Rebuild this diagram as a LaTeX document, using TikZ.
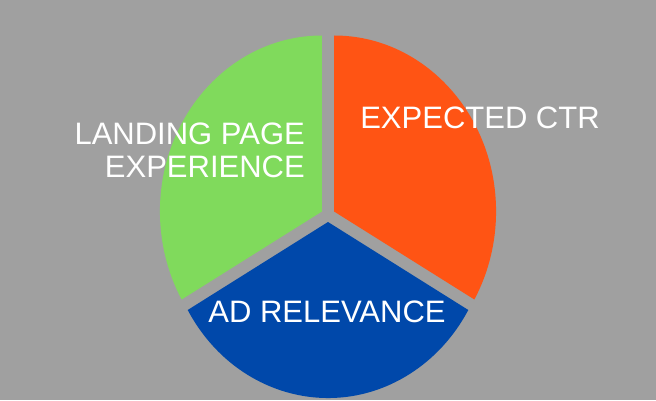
\documentclass[tikz,border=0pt]{standalone}
\usepackage{fontspec}
\setmainfont{Liberation Sans}
\usetikzlibrary{calc}
\definecolor{bg}{HTML}{A0A0A0}
\definecolor{pgreen}{HTML}{80DA5C}
\definecolor{porange}{HTML}{FF5414}
\definecolor{pblue}{HTML}{0048AA}
\tikzset{lbl/.style={text=white,font=\fontsize{31}{33}\selectfont,inner sep=0pt}}
\begin{document}
\begin{tikzpicture}[x=1pt,y=1pt]
\fill[bg] (0,0) rectangle (656,400);
\useasboundingbox (0,0) rectangle (656,400);
\coordinate (co) at ($(328,185)+(30:7)$);
\coordinate (cg) at ($(328,185)+(150:7)$);
\coordinate (cb) at ($(328,185)+(270:7)$);
\fill[porange] (co) -- ++(0,176) arc[start angle=90,end angle=-30,x radius=162,y radius=176] -- cycle;
\fill[pgreen] (cg) -- ++(0,176) arc[start angle=90,end angle=210,x radius=162,y radius=176] -- cycle;
\fill[pblue] (cb) -- ++({162*cos(210)},{176*sin(210)}) arc[start angle=210,end angle=330,x radius=162,y radius=176] -- cycle;
\node[lbl] (ctr) at (480,282) {EXPECTED CTR};
\node[lbl,align=right,anchor=east] (lpe) at (305,250) {LANDING PAGE\\EXPERIENCE};
\node[lbl] (ad) at (327,88) {AD RELEVANCE};
\end{tikzpicture}
\end{document}
